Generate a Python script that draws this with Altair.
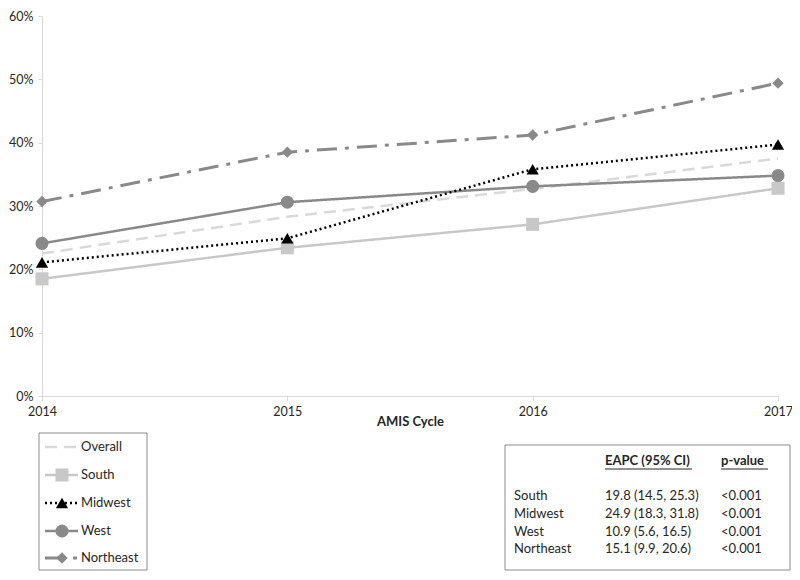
import altair as alt
import pandas as pd

# ---------------- data ----------------
years = [2014, 2015, 2016, 2017]
series_names = ["Overall", "South", "Midwest", "West", "Northeast"]
overall = [22.5, 28.3, 32.7, 37.5]
south = [18.5, 23.4, 27.1, 32.8]
midwest = [21.1, 24.9, 35.8, 39.7]
west = [24.1, 30.6, 33.1, 34.8]
northeast = [30.7, 38.5, 41.2, 49.4]
y_ticks = [0, 0.1, 0.2, 0.3, 0.4, 0.5, 0.6]

table_regions = ["South", "Midwest", "West", "Northeast"]
table_eapc = ["19.8 (14.5, 25.3)", "24.9 (18.3, 31.8)", "10.9 (5.6, 16.5)", "15.1 (9.9, 20.6)"]
table_p = ["<0.001", "<0.001", "<0.001", "<0.001"]
table_headers = ["EAPC (95% CI)", "p-value"]

# ---------------- styles ----------------
colors = ["#d9d9d9", "#c8c8c8", "#000000", "#898989", "#898989"]
dashes = [[12, 7], [1, 0], [2, 3], [1, 0], [20, 8, 4, 8]]
widths = [2.5, 2.5, 2.5, 2.5, 3]
shapes = [None, "square", "triangle-up", "circle", "diamond"]
sizes = [0, 170, 150, 170, 130]
FONT = "Lato"
TXT = "#262626"

values = [overall, south, midwest, west, northeast]
rows = []
for name, vals in zip(series_names, values):
    for yr, v in zip(years, vals):
        rows.append({"cycle": yr, "share": v / 100.0, "series": name})
df = pd.DataFrame(rows)

TOP = 8
PH = 380  # plot top at page y=16, bottom at 396

x_enc = alt.X(
    "cycle:Q",
    scale=alt.Scale(domain=[2014, 2017], nice=False, zero=False),
    axis=alt.Axis(
        values=years, format="d", title="AMIS Cycle", grid=False,
        tickSize=5, labelPadding=4, labelFlush=False, labelFontSize=12.5,
        titleY=25, titleBaseline="middle", titleFontWeight="bold",
    ),
)
y_enc = alt.Y(
    "share:Q",
    scale=alt.Scale(domain=[0, 0.6], nice=False),
    axis=alt.Axis(
        values=y_ticks, format=".0%", title=None, grid=False,
        tickSize=4, labelPadding=5, labelFlush=False, labelFontSize=12.5,
    ),
)

layers = []
draw_order = [0, 1, 3, 4, 2]
for i in draw_order:
    name = series_names[i]
    base = alt.Chart(df).transform_filter(alt.datum.series == name)
    layers.append(
        base.mark_line(color=colors[i], strokeDash=dashes[i], strokeWidth=widths[i])
        .encode(x=x_enc, y=y_enc)
    )
    if shapes[i]:
        layers.append(
            base.mark_point(shape=shapes[i], filled=True, size=sizes[i],
                            color=colors[i], opacity=1)
            .encode(x=x_enc, y=y_enc)
        )

# offsets below are page y minus 10; shift to plot-relative coordinates
dy = 10 - (8 + TOP)

# ---------------- legend (custom) ----------------
one = pd.DataFrame({"k": [0]})
layers.append(
    alt.Chart(one).mark_rect(fill="white", stroke="#8c8c8c", strokeWidth=1)
    .encode(x=alt.value(-3), x2=alt.value(105), y=alt.value(423 + dy), y2=alt.value(560 + dy))
)
legend_y = [437, 465, 493, 521, 548]
for i, name in enumerate(series_names):
    ld = pd.DataFrame({"series": [name]})
    ly = legend_y[i] + dy
    layers.append(
        alt.Chart(ld).mark_rule(color=colors[i], strokeDash=dashes[i], strokeWidth=widths[i])
        .encode(x=alt.value(3), x2=alt.value(36), y=alt.value(ly))
    )
    if shapes[i]:
        layers.append(
            alt.Chart(ld).mark_point(shape=shapes[i], filled=True, size=sizes[i],
                                     color=colors[i], opacity=1)
            .encode(x=alt.value(20), y=alt.value(ly))
        )
    layers.append(
        alt.Chart(ld).mark_text(align="left", baseline="middle", font=FONT,
                                fontSize=13, color=TXT)
        .encode(x=alt.value(39), y=alt.value(ly), text="series:N")
    )

# ---------------- table (custom) ----------------
layers.append(
    alt.Chart(one).mark_rect(fill="white", stroke="#8c8c8c", strokeWidth=1)
    .encode(x=alt.value(463), x2=alt.value(748), y=alt.value(435 + dy), y2=alt.value(560 + dy))
)
header_x = [563, 679]
header_w = [87, 47]
for hx, hw, htxt in zip(header_x, header_w, table_headers):
    hd = pd.DataFrame({"t": [htxt]})
    layers.append(
        alt.Chart(hd).mark_text(align="left", baseline="middle", font=FONT,
                                fontSize=13, fontWeight="bold", color=TXT)
        .encode(x=alt.value(hx), y=alt.value(451 + dy), text="t:N")
    )
    layers.append(
        alt.Chart(hd).mark_rule(color=TXT, strokeWidth=1)
        .encode(x=alt.value(hx), x2=alt.value(hx + hw), y=alt.value(459 + dy))
    )
row_y = [486, 504, 522, 539]
for ry, reg, ea, pv in zip(row_y, table_regions, table_eapc, table_p):
    rd = pd.DataFrame({"r": [reg], "e": [ea], "p": [pv]})
    for col, cx in (("r", 472), ("e", 563), ("p", 679)):
        layers.append(
            alt.Chart(rd).mark_text(align="left", baseline="middle", font=FONT,
                                    fontSize=13, color=TXT)
            .encode(x=alt.value(cx), y=alt.value(ry + dy), text=f"{col}:N")
        )

chart = (
    alt.layer(*layers)
    .properties(
        width=736, height=PH,
        padding={"left": 34, "top": TOP, "right": 14, "bottom": 176},
        autosize=alt.AutoSizeParams(type="none"),
    )
    .configure_view(stroke=None)
    .configure_axis(
        labelFont=FONT, labelFontSize=13, labelColor=TXT,
        titleFont=FONT, titleFontSize=13, titleColor=TXT,
        domainColor="#d9d9d9", tickColor="#d9d9d9", domainWidth=1,
    )
)

chart.save("out.html", embed_options={"renderer": "svg", "actions": False})
